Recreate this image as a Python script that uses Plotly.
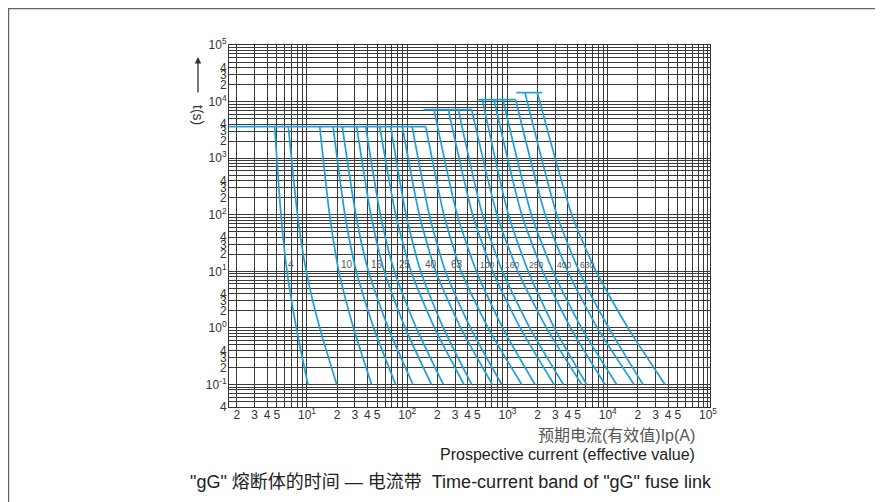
import math
import plotly.graph_objects as go

# ---------------- data ----------------
# time levels (s) below the conventional time at which each curve was read
CURVE_TIMES_TAIL = [100, 10, 1, 0.1]

# conventional time (s) at which each curve leaves its horizontal line
CONV_TIME = [3600] * 12 + [7200] * 4 + [10800] * 4 + [14400] * 2

# current (A) of each curve at [conventional time, 100 s, 10 s, 1 s, 0.1 s]
# two curves (lower / upper limit of the band) per rating, ratings 4 ... 630 A
CURVES = [
    [4.76, 5.50, 6.32, 7.83, 10.2],      # 4 A
    [6.51, 8.04, 9.83, 13.4, 19.8],
    [13.4, 16.8, 20.8, 29.1, 44.2],      # 10 A
    [18.2, 23.9, 31.0, 46.3, 76.6],
    [22.5, 30.7, 41.0, 64.7, 114],       # 16 A
    [31.3, 43.4, 59.0, 95.4, 174],
    [38.5, 54.0, 74.4, 123, 229],        # 25 A
    [53.1, 76.7, 109, 187, 368],
    [68.3, 97.3, 136, 229, 439],         # 40 A
    [89.3, 132, 192, 342, 706],
    [112, 166, 240, 427, 875],           # 63 A
    [153, 232, 345, 640, 1384],
    [185, 315, 490, 895, 1881],          # 100 A
    [257, 449, 712, 1339, 2909],
    [323, 563, 890, 1667, 3605],         # 160 A
    [439, 785, 1269, 2447, 5494],
    [561, 1022, 1610, 2932, 6162],       # 250 A
    [733, 1388, 2252, 4259, 9389],
    [902, 1733, 2844, 5465, 12270],      # 400 A
    [1206, 2381, 3990, 7873, 18280],
    [1495, 3108, 5198, 10240, 22470],    # 630 A
    [1984, 4380, 7648, 15910, 37250],
]

# horizontal conventional-time lines: time (s), start current, end current (A)
PLATEAU_TIME = [3600, 7200, 10800, 14400]
PLATEAU_FROM = [1.67, 145, 512, 1225]
PLATEAU_TO = [153, 446, 1206, 2226]

# rating labels (text, current A) at time RATING_T (s)
RATING_TEXT = ["4", "10", "16", "25", "40", "63", "100", "160", "250", "400", "630"]
RATING_X = [6.98, 25.3, 50.3, 95.0, 174, 311, 629, 1101, 1940, 3661, 6258]
RATING_T = 13.1

X_TITLE_CN = "预期电流(有效值)Ip(A)"
X_TITLE_EN = "Prospective current (effective value)"
CAPTION = '"gG" 熔断体的时间 — 电流带  Time-current band of "gG" fuse link'
Y_TITLE = "t(s)"

# ---------------- figure ----------------
W, H = 883, 502
PAGE_OFF = 8                      # browser body margin
ML, MT = 229 - PAGE_OFF, 45 - PAGE_OFF
PW, PH = 481, 362
MR, MB = W - ML - PW, H - MT - PH
BLUE = "#1f9fd8"
GRID = "#3a3a3a"
FONT = "Liberation Sans, Arial, Noto Sans CJK SC, sans-serif"

fig = go.Figure()

for i, row in enumerate(CURVES):
    fig.add_trace(go.Scatter(
        x=row, y=[CONV_TIME[i]] + CURVE_TIMES_TAIL,
        mode="lines", line=dict(color=BLUE, width=1.7, shape="spline", smoothing=0.6),
        hoverinfo="skip", showlegend=False))

for t, a, b in zip(PLATEAU_TIME, PLATEAU_FROM, PLATEAU_TO):
    fig.add_trace(go.Scatter(
        x=[a, b], y=[t, t], mode="lines",
        line=dict(color=BLUE, width=1.7), hoverinfo="skip", showlegend=False))

# ticks: labelled ticks + unlabelled minor grid lines
xt_vals, xt_text, xm_vals = [], [], []
for d in range(0, 5):
    for m in range(1, 10):
        v = m * 10 ** d
        if v < 1.9:
            continue
        if m == 1:
            xt_vals.append(v)
            xt_text.append(f"10<sup>{d}</sup>")
        elif m <= 5:
            xt_vals.append(v)
            xt_text.append(str(m))
        else:
            xm_vals.append(v)
xt_vals.append(10 ** 5)
xt_text.append("10<sup>5</sup>")

yt_vals, yt_text, ym_vals = [], [], []
for d in range(-2, 5):
    for m in range(1, 10):
        v = m * 10.0 ** d
        if v < 0.039:
            continue
        if m == 1:
            yt_vals.append(v)
            yt_text.append(f"10<sup>{d}</sup>")
        elif m <= 4:
            yt_vals.append(v)
            yt_text.append(str(m))
        else:
            ym_vals.append(v)
yt_vals.append(1e5)
yt_text.append("10<sup>5</sup>")

fig.update_xaxes(
    type="log", range=[0.222, 5.02], tickmode="array", tickvals=xt_vals, ticktext=xt_text,
    showgrid=True, gridcolor=GRID, gridwidth=1, showline=True, linecolor="#333", linewidth=1,
    mirror=True, ticks="", zeroline=False, ticklabelstandoff=-3,
    minor=dict(tickmode="array", tickvals=xm_vals, showgrid=True, gridcolor=GRID,
               gridwidth=1, ticks=""),
    tickfont=dict(family=FONT, size=12, color="#333"))
fig.update_yaxes(
    type="log", range=[-1.398, 5], tickmode="array", tickvals=yt_vals, ticktext=yt_text,
    showgrid=True, gridcolor=GRID, gridwidth=1, showline=True, linecolor="#333", linewidth=1,
    mirror=True, ticks="", zeroline=False, ticklabelstandoff=-1,
    minor=dict(tickmode="array", tickvals=ym_vals, showgrid=True, gridcolor=GRID,
               gridwidth=1, ticks=""),
    tickfont=dict(family=FONT, size=12, color="#333"))

ann = []
for txt, xv in zip(RATING_TEXT, RATING_X):
    ann.append(dict(x=math.log10(xv), y=math.log10(RATING_T), xref="x", yref="y", text=txt,
                    showarrow=False, xanchor="center", yanchor="middle",
                    font=dict(family=FONT, size=10 if len(txt) < 3 else 8.5, color="#555")))

def px_x(px):
    return (px - PAGE_OFF - ML) / PW

def px_y(py):
    return (MT + PH - (py - PAGE_OFF)) / PH

ann.append(dict(xref="paper", yref="paper", x=px_x(697), y=px_y(435), text=X_TITLE_CN,
                showarrow=False, xanchor="right", yanchor="middle",
                font=dict(family="Liberation Sans, Noto Sans CJK SC", size=16, color="#555")))
ann.append(dict(xref="paper", yref="paper", x=px_x(697), y=px_y(454), text=X_TITLE_EN,
                showarrow=False, xanchor="right", yanchor="middle",
                font=dict(family=FONT, size=16, color="#222")))
ann.append(dict(xref="paper", yref="paper", x=px_x(451), y=px_y(482), text=CAPTION,
                showarrow=False, xanchor="center", yanchor="middle",
                font=dict(family="Liberation Sans, Noto Sans CJK SC", size=18, color="#222")))
ann.append(dict(xref="paper", yref="paper", x=px_x(198), y=px_y(115), text=Y_TITLE,
                showarrow=False, xanchor="center", yanchor="middle", textangle=90,
                font=dict(family=FONT, size=14, color="#333")))
ann.append(dict(xref="paper", yref="paper", x=px_x(198), y=px_y(57), ax=0, ay=37,
                axref="pixel", ayref="pixel", text="", showarrow=True, arrowhead=2,
                arrowsize=1, arrowwidth=1.3, arrowcolor="#333"))

shapes = [dict(type="rect", xref="paper", yref="paper", x0=px_x(8.5), x1=px_x(900),
               y0=px_y(520), y1=px_y(8.5), line=dict(color="#666", width=1.5),
               fillcolor="rgba(0,0,0,0)", layer="below")]

fig.update_layout(
    width=W, height=H, margin=dict(l=ML, r=MR, t=MT, b=MB, pad=0),
    paper_bgcolor="white", plot_bgcolor="white",
    annotations=ann, shapes=shapes, showlegend=False)

fig.write_html("out.html")
